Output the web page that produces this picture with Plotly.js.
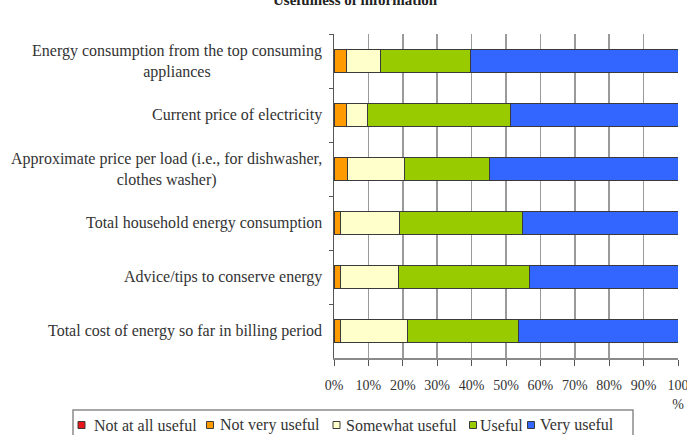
<!DOCTYPE html>
<html>
<head>
<meta charset="utf-8">
<script src="https://cdn.plot.ly/plotly-3.0.1.min.js"></script>
<style>html,body{margin:0;padding:0;background:#fff;}#chart{width:687px;height:435px;}</style>
</head>
<body>
<div id="chart"></div>
<script>
var categories = [
  "Energy consumption from the top consuming<br>appliances",
  "Current price of electricity",
  "Approximate price per load (i.e., for dishwasher,<br>clothes washer)",
  "Total household energy consumption",
  "Advice/tips to conserve energy",
  "Total cost of energy so far in billing period"
];
var seriesNames = ["Not at all useful", "Not very useful", "Somewhat useful", "Useful", "Very useful"];
var notAtAllUseful = [0, 0, 0, 0, 0, 0];
var notVeryUseful = [3.7, 3.7, 3.9, 2.0, 2.0, 2.0];
var somewhatUseful = [9.7, 6.0, 16.7, 16.9, 16.8, 19.4];
var useful = [26.4, 41.5, 24.7, 35.9, 38.0, 32.3];
var veryUseful = [60.2, 48.8, 54.7, 45.2, 43.2, 46.3];
var tickVals = [0, 10, 20, 30, 40, 50, 60, 70, 80, 90, 100];
var tickText = ["0%", "10%", "20%", "30%", "40%", "50%", "60%", "70%", "80%", "90%", "100<br>%"];
var chartTitle = "Usefulness of information";

var colors = ["#e8141b", "#ff9a00", "#ffffcc", "#99cc00", "#3366ff"];
var seriesValues = [notAtAllUseful, notVeryUseful, somewhatUseful, useful, veryUseful];
var font = "Liberation Serif, Times New Roman, serif";

var W = 687, H = 435, L = 334, R = 9, T = 34, B = 77;
var pw = W - L - R, ph = H - T - B;
function px2x(p) { return (p - L) / pw; }
function px2y(p) { return (H - B - p) / ph; }

var data = seriesValues.map(function (vals, i) {
  return {
    type: "bar",
    orientation: "h",
    name: seriesNames[i],
    x: vals,
    y: categories,
    marker: { color: colors[i], line: { color: "#3a3a3a", width: 1 } },
    width: 0.41,
    hoverinfo: "x+name"
  };
});

var annotations = categories.map(function (c) {
  return {
    xref: "paper", yref: "y", x: px2x(324), y: c,
    xanchor: "right", yanchor: "middle", align: "center",
    text: c, showarrow: false,
    font: { family: font, size: 16, color: "#333" }
  };
});
annotations.push({
  xref: "paper", yref: "paper", x: px2x(355), y: px2y(-0.5),
  xanchor: "center", yanchor: "middle",
  text: "<b>" + chartTitle + "</b>", showarrow: false,
  font: { family: font, size: 15, color: "#222" }
});

// custom legend (layout only)
var shapes = [{
  type: "rect", xref: "paper", yref: "paper",
  x0: px2x(73), x1: px2x(633), y0: px2y(410), y1: px2y(450),
  line: { color: "#8a8a8a", width: 1.5 }, fillcolor: "rgba(0,0,0,0)"
}];
var legendSquareX = [81.5, 210, 336.5, 473, 531];
var legendTextX = [92, 218, 344, 478, 538];
var legendY = 425;
seriesNames.forEach(function (n, i) {
  shapes.push({
    type: "rect", xref: "paper", yref: "paper",
    x0: px2x(legendSquareX[i] - 3.5), x1: px2x(legendSquareX[i] + 3.5),
    y0: px2y(legendY - 3.5), y1: px2y(legendY + 3.5),
    line: { color: "#3a3a3a", width: 1 }, fillcolor: colors[i]
  });
  annotations.push({
    xref: "paper", yref: "paper", x: px2x(legendTextX[i]), y: px2y(legendY),
    xanchor: "left", yanchor: "middle", text: n, showarrow: false,
    font: { family: font, size: 16, color: "#333" }
  });
});

var layout = {
  width: W, height: H,
  margin: { l: L, r: R, t: T, b: B, autoexpand: false },
  paper_bgcolor: "#fff", plot_bgcolor: "#fff",
  barmode: "stack",
  showlegend: false,
  xaxis: {
    range: [0, 100], tickvals: tickVals, ticktext: tickText,
    showgrid: true, gridcolor: "#9a9a9a", gridwidth: 1.5,
    ticks: "outside", ticklen: 6, tickcolor: "#555",
    ticklabelstandoff: 8, ticklabeloverflow: "allow",
    showline: true, linecolor: "#8a8a8a", linewidth: 1.5,
    zeroline: false, fixedrange: true,
    tickfont: { family: font, size: 14, color: "#333" }
  },
  yaxis: {
    type: "category", autorange: "reversed",
    showticklabels: false, tickson: "boundaries",
    ticks: "outside", ticklen: 4, tickcolor: "#555",
    showline: true, linecolor: "#555", linewidth: 1.5,
    showgrid: false, zeroline: false, fixedrange: true
  },
  shapes: shapes,
  annotations: annotations
};

Plotly.newPlot("chart", data, layout, { displayModeBar: false, staticPlot: true });
</script>
</body>
</html>
